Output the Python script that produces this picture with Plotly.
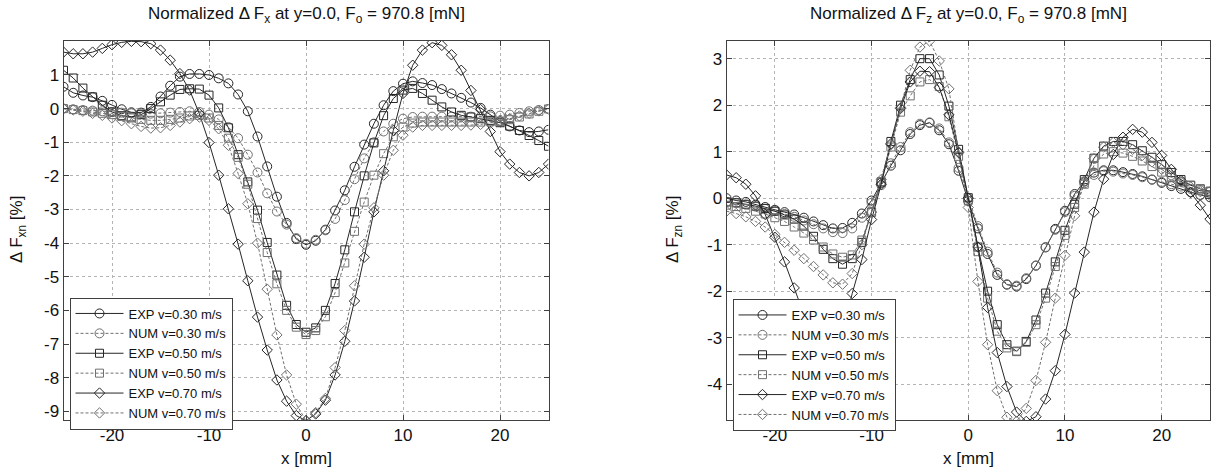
import plotly.graph_objects as go

x_mm = list(range(-25, 26))

# Normalized delta Fx [%]
fx_exp_030 = [0.65, 0.47, 0.39, 0.34, 0.23, 0.11, -0.02, -0.11, -0.12, 0.05,
              0.36, 0.68, 0.95, 1.03, 1.03, 1.00, 0.90, 0.75, 0.42, -0.08,
              -0.83, -1.72, -2.62, -3.40, -3.88, -4.05, -3.93, -3.60, -3.03, -2.43,
              -1.73, -1.07, -0.45, 0.10, 0.52, 0.74, 0.81, 0.76, 0.70, 0.58,
              0.45, 0.32, 0.18, 0.02, -0.18, -0.38, -0.53, -0.65, -0.70, -0.68, -0.63]
fx_num_030 = [0.00, -0.02, -0.04, -0.06, -0.08, -0.10, -0.12, -0.14, -0.15, -0.15,
              -0.14, -0.12, -0.10, -0.08, -0.10, -0.18, -0.32, -0.55, -0.88, -1.37,
              -1.90, -2.52, -3.06, -3.45, -3.85, -4.02, -3.90, -3.62, -3.28, -2.72,
              -2.10, -1.48, -1.00, -0.68, -0.45, -0.30, -0.25, -0.24, -0.24, -0.24,
              -0.24, -0.24, -0.24, -0.24, -0.23, -0.21, -0.18, -0.13, -0.08, -0.04, -0.01]
fx_exp_050 = [1.14, 0.91, 0.61, 0.35, 0.10, -0.10, -0.21, -0.25, -0.18, 0.00,
              0.20, 0.40, 0.57, 0.59, 0.58, 0.40, 0.02, -0.57, -1.37, -2.18,
              -3.02, -3.98, -4.95, -5.85, -6.42, -6.65, -6.52, -6.00, -5.20, -4.20,
              -3.07, -2.00, -1.02, -0.21, 0.30, 0.55, 0.60, 0.45, 0.25, 0.05,
              -0.10, -0.20, -0.25, -0.30, -0.35, -0.42, -0.52, -0.65, -0.80, -0.95, -1.12]
fx_num_050 = [0.00, -0.03, -0.06, -0.10, -0.14, -0.18, -0.23, -0.28, -0.32, -0.35,
              -0.35, -0.32, -0.28, -0.22, -0.20, -0.28, -0.50, -0.88, -1.45, -2.25,
              -3.27, -4.28, -5.21, -6.00, -6.50, -6.72, -6.60, -6.19, -5.47, -4.59,
              -3.65, -2.78, -1.98, -1.34, -0.84, -0.55, -0.43, -0.40, -0.40, -0.40,
              -0.40, -0.40, -0.40, -0.40, -0.39, -0.37, -0.33, -0.25, -0.16, -0.08, -0.01]
fx_exp_070 = [1.68, 1.63, 1.63, 1.68, 1.79, 1.90, 1.97, 2.00, 1.99, 1.93,
              1.74, 1.44, 1.04, 0.55, -0.15, -1.01, -1.98, -2.98, -4.03, -5.12,
              -6.20, -7.18, -8.07, -8.70, -9.13, -9.28, -9.08, -8.67, -7.92, -6.92,
              -5.72, -4.42, -3.07, -1.85, -0.65, 0.45, 1.29, 1.74, 1.96, 1.88,
              1.60, 1.14, 0.54, -0.03, -0.68, -1.28, -1.65, -1.90, -2.00, -1.90, -1.65]
fx_num_070 = [0.00, -0.04, -0.08, -0.14, -0.20, -0.28, -0.36, -0.45, -0.53, -0.58,
              -0.57, -0.50, -0.40, -0.30, -0.25, -0.35, -0.60, -1.09, -1.93, -2.83,
              -4.00, -5.37, -6.73, -7.92, -8.79, -9.28, -9.04, -8.62, -7.70, -6.60,
              -5.27, -4.03, -2.95, -1.98, -1.24, -0.79, -0.55, -0.50, -0.50, -0.50,
              -0.50, -0.50, -0.49, -0.47, -0.43, -0.37, -0.30, -0.22, -0.14, -0.07, -0.02]

# Normalized delta Fz [%]
fz_exp_030 = [0.00, -0.05, -0.08, -0.14, -0.19, -0.25, -0.30, -0.35, -0.42, -0.50,
              -0.58, -0.65, -0.64, -0.53, -0.33, -0.05, 0.33, 0.70, 1.03, 1.38,
              1.57, 1.62, 1.46, 1.16, 0.59, -0.06, -0.65, -1.20, -1.65, -1.86,
              -1.90, -1.74, -1.45, -1.06, -0.66, -0.27, 0.09, 0.36, 0.55, 0.60,
              0.60, 0.56, 0.52, 0.47, 0.40, 0.33, 0.26, 0.20, 0.13, 0.07, 0.02]
fz_num_030 = [-0.08, -0.10, -0.14, -0.18, -0.23, -0.28, -0.34, -0.40, -0.48, -0.56,
              -0.65, -0.73, -0.75, -0.65, -0.42, -0.10, 0.28, 0.75, 1.10, 1.42,
              1.60, 1.63, 1.50, 1.20, 0.65, 0.00, -0.60, -1.15, -1.60, -1.85,
              -1.88, -1.72, -1.45, -1.05, -0.68, -0.30, 0.05, 0.32, 0.50, 0.58,
              0.57, 0.53, 0.50, 0.45, 0.40, 0.35, 0.30, 0.25, 0.20, 0.17, 0.14]
fz_exp_050 = [-0.08, -0.10, -0.13, -0.17, -0.22, -0.28, -0.36, -0.45, -0.60, -0.82,
              -1.10, -1.30, -1.42, -1.30, -0.95, -0.30, 0.35, 1.22, 2.00, 2.55,
              3.00, 3.00, 2.65, 1.98, 1.05, 0.01, -1.05, -2.00, -2.72, -3.15,
              -3.29, -3.08, -2.62, -2.04, -1.37, -0.69, -0.13, 0.40, 0.86, 1.12,
              1.22, 1.22, 1.15, 1.02, 0.88, 0.72, 0.55, 0.40, 0.28, 0.20, 0.15]
fz_num_050 = [-0.15, -0.18, -0.22, -0.28, -0.34, -0.42, -0.50, -0.62, -0.75, -0.90,
              -1.05, -1.20, -1.27, -1.22, -0.90, -0.30, 0.35, 1.10, 1.85, 2.20,
              2.50, 2.55, 2.40, 1.75, 0.90, -0.05, -1.15, -2.15, -2.86, -3.22,
              -3.30, -3.10, -2.72, -2.15, -1.47, -0.80, -0.20, 0.30, 0.70, 0.95,
              1.00, 0.97, 0.90, 0.80, 0.68, 0.56, 0.45, 0.35, 0.27, 0.20, 0.14]
fz_exp_070 = [0.50, 0.44, 0.30, 0.05, -0.35, -0.84, -1.37, -1.93, -2.50, -3.00,
              -3.30, -3.35, -2.90, -2.05, -1.32, -0.46, 0.30, 1.17, 1.93, 2.50,
              2.73, 2.72, 2.38, 1.79, 0.98, 0.00, -1.05, -2.35, -3.32, -4.05,
              -4.60, -4.80, -4.70, -4.32, -3.71, -2.93, -2.04, -1.16, -0.30, 0.41,
              0.94, 1.31, 1.48, 1.42, 1.20, 0.92, 0.62, 0.38, 0.12, -0.15, -0.45]
fz_num_070 = [-0.28, -0.33, -0.40, -0.50, -0.62, -0.78, -0.95, -1.12, -1.30, -1.47,
              -1.65, -1.82, -1.85, -1.62, -1.00, -0.30, 0.40, 1.15, 1.95, 2.75,
              3.25, 3.38, 2.95, 2.35, 1.00, -0.20, -1.79, -3.15, -4.14, -4.71,
              -4.80, -4.52, -3.92, -3.10, -2.15, -1.23, -0.38, 0.35, 0.85, 1.10,
              1.20, 1.15, 1.05, 0.92, 0.78, 0.62, 0.48, 0.35, 0.24, 0.14, 0.06]

fx_tickvals = [-9, -8, -7, -6, -5, -4, -3, -2, -1, 0, 1]
fz_tickvals = [-4, -3, -2, -1, 0, 1, 2, 3]
x_tickvals = [-20, -10, 0, 10, 20]

FONT = "Liberation Sans, Arial, Helvetica, sans-serif"
EXP_COLOR = "#262626"
NUM_COLOR = "#707070"

series_fx = [("EXP v=0.30 m/s", fx_exp_030, "circle-open", 9, True),
             ("NUM v=0.30 m/s", fx_num_030, "circle-open", 9, False),
             ("EXP v=0.50 m/s", fx_exp_050, "square-open", 8, True),
             ("NUM v=0.50 m/s", fx_num_050, "square-open", 8, False),
             ("EXP v=0.70 m/s", fx_exp_070, "diamond-open", 8, True),
             ("NUM v=0.70 m/s", fx_num_070, "diamond-open", 8, False)]
series_fz = [("EXP v=0.30 m/s", fz_exp_030, "circle-open", 9, True),
             ("NUM v=0.30 m/s", fz_num_030, "circle-open", 9, False),
             ("EXP v=0.50 m/s", fz_exp_050, "square-open", 8, True),
             ("NUM v=0.50 m/s", fz_num_050, "square-open", 8, False),
             ("EXP v=0.70 m/s", fz_exp_070, "diamond-open", 8, True),
             ("NUM v=0.70 m/s", fz_num_070, "diamond-open", 8, False)]

W, H = 1216, 473


def px(x):
    return x / W


def py(y):
    return 1 - y / H


def hyphen_labels(vals):
    # MATLAB style labels use a plain hyphen for the minus sign
    return [str(v) for v in vals]


fig = go.Figure()


def add_series(series, xa, ya, legend):
    for name, vals, symbol, size, exp in series:
        color = EXP_COLOR if exp else NUM_COLOR
        fig.add_trace(go.Scatter(
            x=x_mm, y=vals, name=name, mode="lines+markers",
            xaxis=xa, yaxis=ya, legend=legend,
            line=dict(color=color, width=1, dash="solid" if exp else "3px,2px"),
            marker=dict(symbol=symbol, size=size, color=color,
                        line=dict(color=color, width=1))))


add_series(series_fx, "x", "y", "legend")
add_series(series_fz, "x2", "y2", "legend2")

y_dom = [py(420), py(41)]

axis_common = dict(showline=True, linecolor="#404040", linewidth=1, mirror="ticks",
                   ticks="inside", ticklen=5, tickcolor="#404040",
                   showgrid=True, gridcolor="#b4b4b4", griddash="dot", gridwidth=1,
                   zeroline=False, tickfont=dict(family=FONT, size=17, color="#111"))

legend_common = dict(bgcolor="white", bordercolor="#404040", borderwidth=1,
                     font=dict(family=FONT, size=13, color="#111"),
                     xanchor="left", yanchor="top", tracegroupgap=0,
                     itemwidth=48, xref="paper", yref="paper")

fig.update_layout(
    width=W, height=H,
    margin=dict(l=0, r=0, t=0, b=0),
    paper_bgcolor="white", plot_bgcolor="white",
    font=dict(family=FONT, color="#111"),
    xaxis=dict(domain=[px(63.5), px(548.5)], range=[-25, 25], tickvals=x_tickvals,
               ticktext=hyphen_labels(x_tickvals), anchor="y", **axis_common),
    yaxis=dict(domain=y_dom, range=[-9.26, 2.01], tickvals=fx_tickvals,
               ticktext=hyphen_labels(fx_tickvals), anchor="x", **axis_common),
    xaxis2=dict(domain=[px(726.5), px(1210)], range=[-25, 25], tickvals=x_tickvals,
                ticktext=hyphen_labels(x_tickvals), anchor="y2", **axis_common),
    yaxis2=dict(domain=y_dom, range=[-4.77, 3.38], tickvals=fz_tickvals,
                ticktext=hyphen_labels(fz_tickvals), anchor="x2", **axis_common),
    legend=dict(x=px(69.5), y=py(297.5), **legend_common),
    legend2=dict(x=px(732.5), y=py(299), **legend_common),
)

texts = [
    (306, 15, "Normalized \u0394 F<sub>x</sub> at y=0.0, F<sub>o</sub> = 970.8 [mN]", 0),
    (968, 15, "Normalized \u0394 F<sub>z</sub> at y=0.0, F<sub>o</sub> = 970.8 [mN]", 0),
    (306, 458, "x [mm]", 0),
    (968, 458, "x [mm]", 0),
    (18, 230, "\u0394 F<sub>xn</sub> [%]", -90),
    (674, 230, "\u0394 F<sub>zn</sub> [%]", -90),
]
for tx, ty, text, angle in texts:
    fig.add_annotation(x=px(tx), y=py(ty), xref="paper", yref="paper", text=text,
                       showarrow=False, textangle=angle,
                       xanchor="center", yanchor="middle",
                       font=dict(family=FONT, size=17, color="#111"))

# drop the default page margin so the figure fills the window exactly
fig.write_html("out.html", config={"displayModeBar": False},
               post_script="document.body.style.margin='0px';")
